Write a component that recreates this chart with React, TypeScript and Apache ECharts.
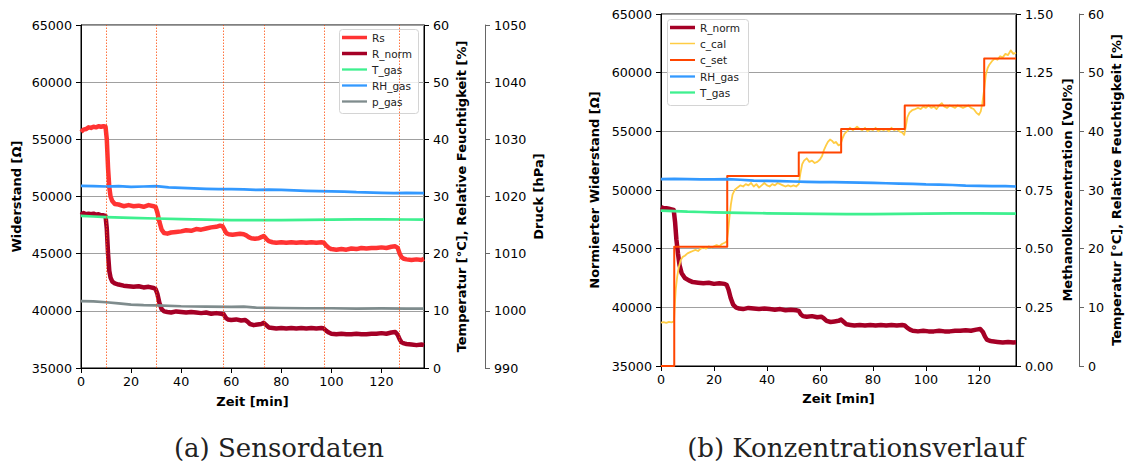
import React, { useEffect, useRef } from "react";
import * as echarts from "echarts";

const FONT = "DejaVu Sans";

// ---------- (a) Sensordaten ----------
const eventsA = [10, 30, 57, 73, 97, 127];
const xTicks = [0, 20, 40, 60, 80, 100, 120];

const rsA = [[0,55650],[1,55850],[2,55900],[3,56050],[4,56000],[5,56100],[6,56050],[7,56150],[8,56100],[9,56150],[9.8,56100],[10.3,55000],[10.8,52500],[11.3,50800],[11.8,50000],[12.5,49600],[13.5,49350],[15,49300],[17,49150],[19,49250],[21,49150],[23,49200],[25,49100],[27,49250],[29,49150],[29.8,49100],[30.5,48600],[31.3,47800],[32.2,47100],[33.2,46800],[34.5,46750],[36,46850],[38,46900],[40,46950],[42,47050],[44,47000],[46,47150],[48,47100],[50,47200],[52,47300],[54,47350],[55.5,47450],[56.5,47400],[57.3,47100],[58,46800],[59,46700],[60.5,46650],[62,46700],[63.5,46750],[65,46700],[66,46600],[67,46450],[68,46350],[69.5,46300],[71,46350],[72,46450],[73,46550],[74,46300],[75,46100],[76.5,46000],[78,45950],[80,46000],[82,45950],[84,46000],[86,45950],[88,46000],[90,45950],[92,46000],[94,45950],[96,46000],[97,45950],[98,45700],[99,45500],[100,45400],[102,45350],[104,45400],[106,45350],[108,45450],[110,45400],[112,45500],[114,45450],[116,45500],[118,45500],[120,45550],[122,45500],[124,45600],[125.5,45650],[126.5,45500],[127.3,45000],[128,44700],[129,44550],[130,44500],[132,44450],[134,44500],[136,44450],[137,44550]];

const rNormA = [[0,48400],[1,48550],[2,48450],[3,48500],[4,48450],[5,48500],[6,48400],[7,48450],[8,48350],[9,48350],[9.8,48300],[10.3,47200],[10.8,45000],[11.3,43500],[11.8,42900],[12.5,42550],[13.5,42400],[15,42300],[17,42200],[19,42150],[21,42100],[23,42150],[25,42050],[27,42100],[29,42000],[29.8,41900],[30.5,41500],[31.3,40700],[32.2,40150],[33.2,39950],[34.5,39900],[36,39850],[38,39950],[40,39900],[42,39850],[44,39900],[46,39850],[48,39800],[50,39850],[52,39750],[54,39800],[56,39750],[57,39700],[57.8,39400],[58.6,39250],[60,39200],[62,39250],[64,39150],[65.5,39200],[66.5,39050],[67.5,38850],[69,38750],[70.5,38800],[72,38850],[73,38950],[74,38750],[75,38550],[76.5,38500],[78,38450],[80,38500],[82,38450],[84,38500],[86,38450],[88,38500],[90,38450],[92,38500],[94,38450],[96,38500],[97,38450],[98,38250],[99,38100],[100,38000],[102,37950],[104,38000],[106,37950],[108,37950],[110,38000],[112,37950],[114,37950],[116,38000],[118,38000],[120,38050],[122,38000],[124,38100],[125.5,38150],[126.5,37900],[127.3,37500],[128,37250],[129,37150],[130,37100],[132,37050],[134,37000],[136,37050],[137,37000]];

const tGasA = [[0,26.6],[5,26.5],[10,26.4],[20,26.25],[30,26.15],[40,26.05],[50,25.95],[60,25.88],[70,25.85],[80,25.85],[90,25.9],[100,25.95],[110,26.0],[120,26.0],[130,25.98],[137,25.97]];

const rhGasA = [[0,31.85],[5,31.8],[10,31.75],[15,31.8],[20,31.7],[25,31.75],[30,31.8],[35,31.6],[40,31.5],[50,31.35],[55,31.3],[60,31.3],[65,31.25],[70,31.15],[75,31.2],[80,31.15],[90,31.0],[100,30.9],[105,30.85],[110,30.75],[120,30.65],[125,30.6],[130,30.65],[137,30.6]];

const pGasA = [[0,1001.7],[5,1001.65],[10,1001.5],[15,1001.3],[20,1001.1],[25,1001.0],[30,1000.95],[40,1000.8],[50,1000.75],[60,1000.7],[65,1000.72],[70,1000.55],[80,1000.5],[90,1000.45],[100,1000.45],[110,1000.4],[120,1000.42],[130,1000.4],[137,1000.4]];

// ---------- (b) Konzentrationsverlauf ----------
const rNormB = [[0,48550],[1,48450],[2,48450],[3,48400],[4,48350],[4.8,48300],[5.3,47300],[5.8,45800],[6.4,44600],[7,43600],[7.8,42900],[9,42500],[10.5,42300],[12,42150],[14,42100],[16,42050],[18,42100],[20,42000],[22,42050],[24,42000],[24.8,41900],[25.5,41500],[26.3,40800],[27.2,40250],[28.2,40000],[29.5,39900],[31,39850],[33,39950],[35,39900],[37,39850],[39,39900],[41,39850],[43,39800],[45,39850],[47,39750],[49,39800],[51,39750],[52,39700],[52.8,39400],[53.6,39250],[55,39200],[57,39250],[59,39150],[60.5,39200],[61.5,39050],[62.5,38850],[64,38750],[65.5,38800],[67,38850],[68,38950],[69,38750],[70,38550],[71.5,38500],[73,38450],[75,38500],[77,38450],[79,38500],[81,38450],[83,38500],[85,38450],[87,38500],[89,38450],[91,38500],[92,38450],[93,38250],[94,38100],[95,38000],[97,37950],[99,38000],[101,37950],[103,37950],[105,38000],[107,37950],[109,37950],[111,38000],[113,38000],[115,38050],[117,38000],[119,38100],[120.5,38150],[121.5,37900],[122.3,37500],[123,37250],[124,37150],[125,37100],[127,37050],[129,37000],[131,37050],[133,37000],[134,37020]];

const cCalB = [[0,0.185],[1,0.187],[2,0.184],[3,0.188],[4,0.186],[4.9,0.19],[5.2,0.26],[5.6,0.33],[6.1,0.38],[6.7,0.42],[7.4,0.45],[8.2,0.465],[9,0.47],[10,0.48],[11,0.485],[12,0.49],[13,0.495],[14,0.49],[15,0.5],[16,0.505],[17,0.5],[18,0.51],[19,0.505],[20,0.51],[21,0.515],[22,0.51],[23,0.52],[24,0.525],[24.8,0.53],[25.3,0.57],[25.8,0.63],[26.4,0.69],[27,0.73],[27.8,0.75],[28.8,0.76],[30,0.77],[31,0.765],[32,0.775],[33,0.77],[34,0.78],[35,0.765],[36,0.775],[37,0.76],[38,0.77],[39,0.78],[40,0.77],[41,0.765],[42,0.775],[43,0.77],[44,0.78],[45,0.775],[46,0.77],[47,0.765],[48,0.77],[49,0.765],[50,0.77],[51,0.765],[52,0.775],[52.6,0.82],[53.3,0.86],[54,0.875],[55,0.885],[56,0.87],[57,0.875],[58,0.865],[59,0.87],[60,0.88],[60.8,0.895],[61.5,0.92],[62.3,0.94],[63,0.955],[63.8,0.965],[64.5,0.96],[65.3,0.95],[66,0.955],[67,0.94],[67.8,0.945],[68.5,0.97],[69.3,0.99],[70.2,1.0],[71.3,1.015],[72.5,1.005],[74,1.02],[75,1.01],[76,1.005],[77,1.015],[78,1.0],[79,1.01],[80,1.005],[81,1.015],[82,1.0],[83,1.01],[84,1.005],[85,1.01],[86,1.0],[87,1.015],[88,1.005],[89,1.01],[90,1.0],[91,0.995],[91.8,0.985],[92.4,1.02],[93,1.06],[93.8,1.08],[94.8,1.09],[96,1.095],[97,1.1],[98,1.095],[99,1.105],[100,1.1],[101,1.11],[102,1.1],[103,1.105],[104,1.095],[105,1.11],[106,1.12],[107,1.105],[108,1.1],[109,1.11],[110,1.105],[111,1.1],[112,1.11],[113,1.105],[114,1.1],[115,1.105],[116,1.11],[117,1.1],[118,1.095],[119,1.08],[120,1.07],[120.7,1.085],[121.3,1.12],[122,1.18],[122.6,1.24],[123.3,1.27],[124,1.285],[125,1.3],[126,1.31],[127,1.305],[128,1.32],[129,1.315],[130,1.33],[131,1.325],[132,1.345],[133,1.33],[134,1.335]];

const cSetB = [[0,0],[5,0.508],[25,0.81],[52,0.91],[68,1.01],[92,1.11],[122,1.31],[134,1.31]];

const rhGasB = [[0,31.85],[5,31.9],[10,31.85],[15,31.8],[20,31.8],[25,31.85],[30,31.75],[35,31.6],[40,31.55],[45,31.5],[50,31.45],[55,31.4],[60,31.35],[65,31.35],[70,31.3],[75,31.25],[80,31.2],[85,31.15],[90,31.1],[95,31.05],[100,30.95],[105,30.9],[110,30.85],[115,30.75],[120,30.7],[125,30.65],[130,30.65],[134,30.6]];

const tGasB = [[0,26.5],[5,26.4],[10,26.3],[15,26.25],[20,26.2],[25,26.15],[30,26.1],[40,26.03],[50,25.97],[60,25.92],[70,25.9],[80,25.9],[90,25.92],[100,25.97],[110,26.0],[120,26.0],[134,25.98]];

const C = {
  rs: "#ff3333",
  rnorm: "#a50026",
  t: "#3ef08f",
  rh: "#3399ff",
  p: "#7f8c8d",
  ccal: "#ffcc44",
  cset: "#ff4500",
};

function xAx(gridIndex: number, max: number, nameGap: number) {
  return {
    type: "value",
    gridIndex,
    min: 0,
    max,
    interval: 20,
    name: "Zeit [min]",
    nameLocation: "middle",
    nameGap,
    nameTextStyle: { fontFamily: FONT, fontWeight: "bold", fontSize: 13, color: "#000" },
    axisLine: { show: true, lineStyle: { color: "#000", width: 1 } },
    axisTick: { show: true, length: 5, customValues: xTicks, lineStyle: { color: "#000" } },
    axisLabel: {
      customValues: xTicks,
      fontFamily: FONT,
      fontSize: 12.7,
      color: "#000",
      margin: 7,
      formatter: (v: number) => (v % 20 === 0 && v <= 120 ? String(v) : ""),
    },
    splitLine: { show: false },
  };
}

function yAx(o: any) {
  const lineColor = o.lineColor || "#000";
  const fmt = o.formatter || ((v: number) => String(v));
  const r: any = {
    type: "value",
    nameLocation: "middle",
    nameTextStyle: { fontFamily: FONT, fontWeight: "bold", fontSize: 13, color: "#000" },
    axisLine: { show: true, onZero: false, lineStyle: { color: lineColor, width: 1 } },
    axisTick: { show: true, length: 5, lineStyle: { color: lineColor } },
    axisLabel: { fontFamily: FONT, fontSize: 12.7, color: "#000", margin: 9, formatter: fmt },
    splitLine: o.split
      ? { show: true, lineStyle: { color: "#a0a0a0", width: 1.2 } }
      : { show: false },
    ...o,
  };
  delete r.lineColor;
  delete r.split;
  delete r.formatter;
  return r;
}

function line(name: string, data: number[][], color: string, width: number, xi: number, yi: number, extra: any = {}) {
  return {
    type: "line",
    name,
    data,
    xAxisIndex: xi,
    yAxisIndex: yi,
    showSymbol: false,
    symbol: "none",
    color,
    lineStyle: { color, width, join: "round" },
    silent: true,
    ...extra,
  };
}

function legendItem(name: string, left: number, cy: number, thick: number) {
  return {
    data: [{ name, icon: "rect" }],
    left,
    top: cy - 7,
    orient: "vertical",
    itemWidth: 25,
    itemHeight: thick,
    padding: 0,
    selectedMode: false,
    z: 10,
    textStyle: { fontFamily: FONT, fontSize: 10.5, color: "#222" },
  };
}

const option: any = {
  animation: false,
  backgroundColor: "#fff",
  grid: [
    { left: 81, top: 25, width: 343, height: 343, show: true, borderColor: "#000", borderWidth: 1, backgroundColor: "transparent" },
    { left: 661, top: 14, width: 355, height: 352, show: true, borderColor: "#000", borderWidth: 1, backgroundColor: "transparent" },
  ],
  xAxis: [xAx(0, 137, 27), xAx(1, 134, 26)],
  yAxis: [
    yAx({ gridIndex: 0, position: "left", min: 35000, max: 65000, interval: 5000, name: "Widerstand [Ω]", nameGap: 58, split: true }),
    yAx({ gridIndex: 0, position: "right", min: 0, max: 60, interval: 10, name: "Temperatur [°C], Relative Feuchtigkeit [%]", nameGap: 31 }),
    yAx({ gridIndex: 0, position: "right", offset: 61, min: 990, max: 1050, interval: 10, name: "Druck [hPa]", nameGap: 47, lineColor: "#666" }),
    yAx({ gridIndex: 1, position: "left", min: 35000, max: 65000, interval: 5000, name: "Normierter Widerstand [Ω]", nameGap: 60, split: true }),
    yAx({ gridIndex: 1, position: "right", min: 0, max: 1.5, interval: 0.25, name: "Methanolkonzentration [Vol%]", nameGap: 45, formatter: (v: number) => v.toFixed(2) }),
    yAx({ gridIndex: 1, position: "right", offset: 63, min: 0, max: 60, interval: 10, name: "Temperatur [°C], Relative Feuchtigkeit [%]", nameGap: 31, lineColor: "#666" }),
  ],
  legend: [
    legendItem("Rs", 342, 39, 3.5),
    legendItem("R_norm", 342, 55, 3.5),
    legendItem("T_gas", 342, 71, 2.3),
    legendItem("RH_gas", 342, 87, 2.3),
    legendItem("p_gas", 342, 103, 2.3),
    legendItem("R_norm", 670, 29, 3.5),
    legendItem("c_cal", 670, 45, 1.5),
    legendItem("c_set", 670, 61.5, 2),
    legendItem("RH_gas", 670, 78, 2.3),
    legendItem("T_gas", 670, 94, 2.3),
  ],
  graphic: [
    { type: "rect", z: 5, shape: { x: 339.5, y: 29.5, width: 79, height: 84, r: 3 }, style: { fill: "rgba(255,255,255,0.8)", stroke: "#d4d4d4", lineWidth: 1 } },
    { type: "rect", z: 5, shape: { x: 667.5, y: 19.5, width: 81, height: 86, r: 3 }, style: { fill: "rgba(255,255,255,0.8)", stroke: "#d4d4d4", lineWidth: 1 } },
    { type: "text", z: 5, x: 279, y: 448, style: { text: "(a) Sensordaten", fontFamily: "DejaVu Serif", fontSize: 26, fill: "#222", textAlign: "center", textVerticalAlign: "middle", verticalAlign: "middle" } },
    { type: "text", z: 5, x: 856, y: 448, style: { text: "(b) Konzentrationsverlauf", fontFamily: "DejaVu Serif", fontSize: 26, fill: "#222", textAlign: "center", textVerticalAlign: "middle", verticalAlign: "middle" } },
  ],
  series: [
    line("Rs", rsA, C.rs, 4.5, 0, 0, {
      markLine: {
        silent: true,
        symbol: "none",
        label: { show: false },
        lineStyle: { type: [1.5, 1.5], color: "rgba(255,69,0,0.75)", width: 1 },
        data: eventsA.map((x) => ({ xAxis: x })),
      },
    }),
    line("R_norm", rNormA, C.rnorm, 4.5, 0, 0),
    line("T_gas", tGasA, C.t, 2.7, 0, 1),
    line("RH_gas", rhGasA, C.rh, 2.7, 0, 1),
    line("p_gas", pGasA, C.p, 2.7, 0, 2),
    line("R_norm", rNormB, C.rnorm, 4.5, 1, 3),
    line("c_cal", cCalB, C.ccal, 1.8, 1, 4),
    line("c_set", cSetB, C.cset, 2, 1, 4, { step: "end" }),
    line("RH_gas", rhGasB, C.rh, 2.7, 1, 5),
    line("T_gas", tGasB, C.t, 2.7, 1, 5),
  ],
};

export default function App() {
  const ref = useRef<HTMLDivElement>(null);
  useEffect(() => {
    if (!ref.current) return;
    const chart = echarts.init(ref.current, null, { renderer: "svg" });
    chart.setOption(option);
    return () => chart.dispose();
  }, []);
  return (
    <div
      ref={ref}
      style={{ position: "absolute", left: 0, top: 0, width: 1127, height: 463, background: "#fff" }}
    />
  );
}
